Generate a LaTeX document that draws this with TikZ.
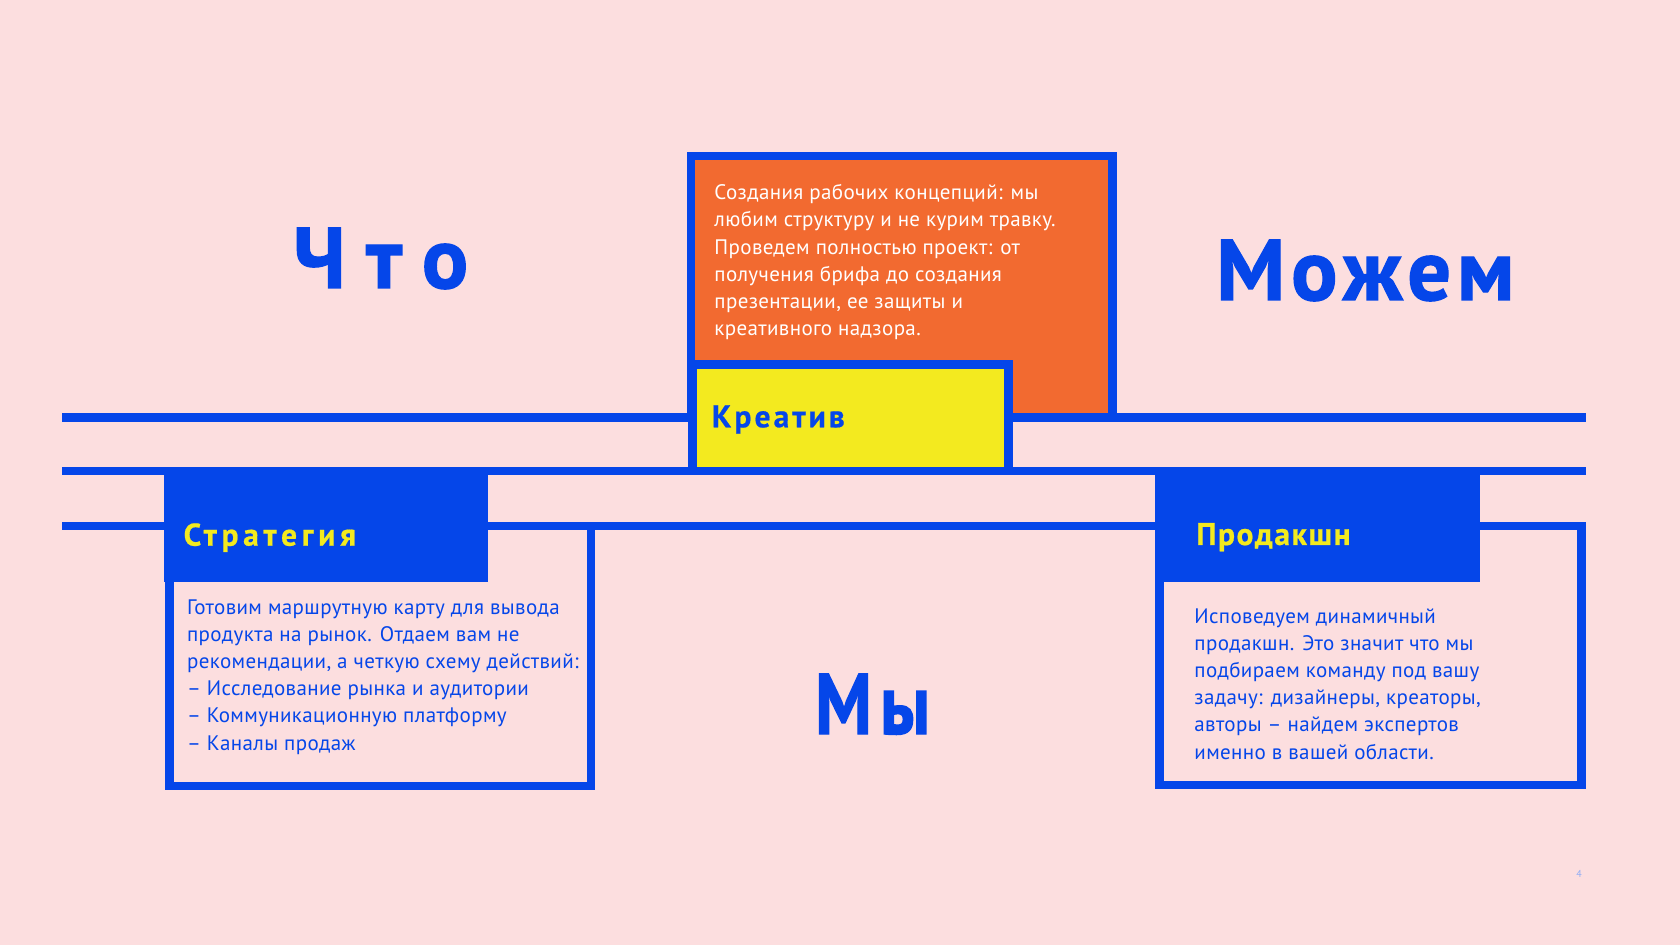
\documentclass[tikz,border=0pt]{standalone}
\usepackage{fontspec}
\setmainfont{PT Sans}
\newfontfamily\headfont[FakeBold=1.5]{PT Sans Bold}
\newfontfamily\titlefont[FakeBold=0.6]{PT Sans Bold}
\newfontfamily\bodyfont[LetterSpace=1.8]{PT Sans}
\usetikzlibrary{positioning}

\definecolor{bgpink}{HTML}{FCDEDF}
\definecolor{mblue}{HTML}{0546E9}
\definecolor{morange}{HTML}{F26A30}
\definecolor{myellow}{HTML}{F3EA1F}

\begin{document}
\begin{tikzpicture}[x=0.5pt, y=-0.5pt,
    % общие стили
    bar/.style={draw=mblue, line width=4.25pt},
    frame/.style={rectangle, draw=mblue, line width=4.25pt, anchor=north west, inner sep=0pt, outer sep=0pt},
    headbox/.style={rectangle, fill=mblue, anchor=north west, inner sep=0pt, outer sep=0pt, minimum height=55.5pt},
    title/.style={anchor=base west, inner sep=0pt, font=\titlefont\fontsize{15.7pt}{18pt}\selectfont},
    body/.style={anchor=north west, inner sep=0pt, align=left, text=mblue, font=\bodyfont\fontsize{10.5pt}{13.6pt}\selectfont},
    bigword/.style={anchor=base west, inner sep=0pt, text=mblue, font=\headfont\fontsize{43pt}{50pt}\selectfont}
]

% фон
\path[fill=bgpink, use as bounding box] (0,0) rectangle (1680,945);

% ====================
% горизонтальные линии
% ====================
\coordinate (l1w) at (62,417.5);  \coordinate (l1e) at (1586,417.5);
\coordinate (l2w) at (62,471);    \coordinate (l2e) at (1586,471);
\coordinate (l3w) at (62,526);    \coordinate (l3e) at (1586,526);

\draw[bar] (l1w) -- (l1e);
\draw[bar] (l2w) -- (l2e);
\draw[bar] (l3w) -- (l3e);

% ====================
% Креатив
% ====================
\node[frame, fill=morange, minimum width=210.75pt, minimum height=130.75pt] (creaframe) at (691,156) {};
\node[frame, fill=myellow, minimum width=158pt, minimum height=53.25pt] (creahead) at (692.5,364.5) {};
\node[title, text=mblue] (creatitle) at (711.5,427.3) {\addfontfeature{LetterSpace=10}Креатив};
\node[body, text=white] (creatext) at (714,184) {Создания рабочих концепций: мы\\
    любим структуру и не курим травку.\\
    Проведем полностью проект: от\\
    получения брифа до создания\\
    презентации, ее защиты и\\
    креативного надзора.};

% ====================
% Стратегия
% ====================
\node[frame, minimum width=210.75pt, minimum height=130.1pt] (stratframe) at (169.25,526) {};
\node[headbox, minimum width=162pt] (strathead) at (164,471) {};
\node[title, text=myellow] (strattitle) at (183.3,545.7) {\addfontfeature{LetterSpace=15}Стратегия};
\node[body] (strattext) at (186.7,599) {Готовим маршрутную карту для вывода\\
    продукта на рынок. Отдаем вам не\\
    рекомендации, а четкую схему действий:\\
    – Исследование рынка и аудитории\\
    – Коммуникационную платформу\\
    – Каналы продаж};

% ====================
% Продакшн
% ====================
\node[frame, minimum width=211pt, minimum height=129.5pt] (prodframe) at (1159.5,526) {};
\node[headbox, minimum width=162.5pt] (prodhead) at (1155,471) {};
\node[title, text=myellow] (prodtitle) at (1196,545) {\addfontfeature{LetterSpace=5}Продакшн};
\node[body] (prodtext) at (1194,608) {Исповедуем динамичный\\
    продакшн. Это значит что мы\\
    подбираем команду под вашу\\
    задачу: дизайнеры, креаторы,\\
    авторы – найдем экспертов\\
    именно в вашей области.};

% ====================
% крупные слова
% ====================
\node[bigword] (wchto) at (293,288) {\addfontfeature{LetterSpace=24}Что};
\node[bigword] (wmozhem) at (1216,300) {\addfontfeature{LetterSpace=7}Можем};
\node[bigword] (wmy) at (815,734) {\addfontfeature{FakeStretch=0.82,LetterSpace=10}Мы};

% номер страницы
\node[inner sep=0pt, text=mblue!45, font=\fontsize{5pt}{6pt}\selectfont] (pagenum) at (1579,874) {4};

\end{tikzpicture}
\end{document}
